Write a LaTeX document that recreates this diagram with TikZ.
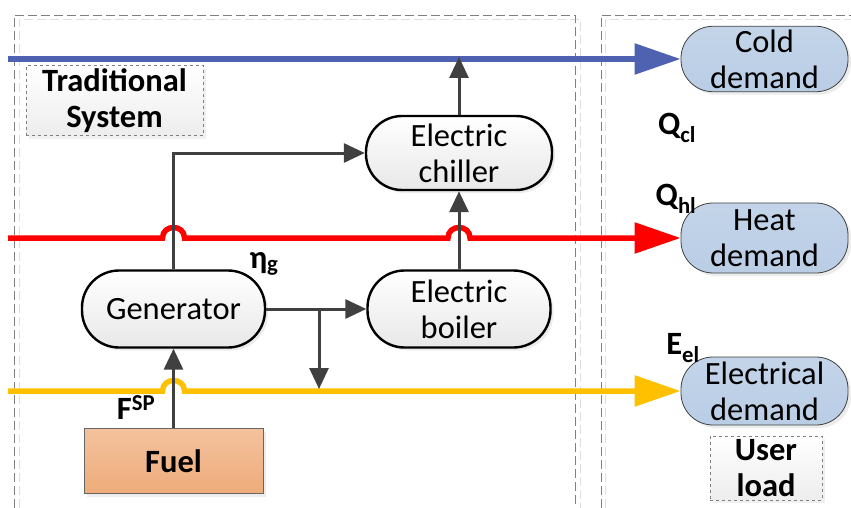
\documentclass[tikz,border=0pt]{standalone}
\usepackage{fontspec}
\setmainfont{Carlito}
\usepackage{tikz}
\usetikzlibrary{arrows.meta,shadows,positioning}
\definecolor{CoolingBlue}{RGB}{79,98,178}
\definecolor{HeatingRed}{RGB}{255,0,0}
\definecolor{PowerYellow}{RGB}{255,192,0}
\definecolor{FlowGray}{RGB}{64,64,64}
\definecolor{DemandBlue}{RGB}{185,205,229}
\definecolor{FuelTop}{RGB}{244,194,158}
\definecolor{FuelBottom}{RGB}{238,172,122}
\definecolor{FrameGray}{RGB}{128,128,128}
\definecolor{FrameLight}{RGB}{222,222,222}
\newcommand{\diagfont}{\fontsize{32.5}{36}\selectfont}
\tikzset{
	plant/.style={draw=black, line width=2.4pt, rounded corners=37pt, minimum width=183pt, minimum height=77pt, top color=white, bottom color=black!9, align=center, font=\diagfont, drop shadow={shadow xshift=3pt, shadow yshift=-3pt, opacity=0.15}},
	demand/.style={draw=black!75, line width=0.8pt, top color=DemandBlue!85!white, bottom color=DemandBlue, rounded corners=32pt, minimum width=167pt, minimum height=66pt, align=center, font=\diagfont, drop shadow={shadow xshift=3pt, shadow yshift=-3pt, opacity=0.15}},
	titlebox/.style={draw=FrameGray, line width=0.8pt, dashed, top color=white, bottom color=black!7, align=center, font=\diagfont\bfseries, drop shadow={shadow xshift=3pt, shadow yshift=-3pt, opacity=0.12}},
	quantity/.style={font=\diagfont\bfseries, inner sep=0pt},
	flow/.style={draw=FlowGray, line width=3pt, -{Triangle[length=21pt,width=19pt]}},
	supply/.style={line width=5.5pt, -{Triangle[length=46pt,width=30pt]}},
	zoneframe/.style={line width=0.9pt, dash pattern=on 9pt off 4pt}
}

\begin{document}
\begin{tikzpicture}[x=1pt, y=-1pt]
	\path[use as bounding box] (0,0) rectangle (851,508);
	% frames
	\draw[zoneframe, FrameLight] (19,508) -- (19,19) -- (580,19) -- (580,508);
	\draw[zoneframe, FrameGray] (14,508) -- (14,15) -- (575,15) -- (575,508);
	\draw[zoneframe, FrameLight] (605,508) -- (605,19) -- (851,19);
	\draw[zoneframe, FrameGray] (601,508) -- (601,15) -- (851,15);
	% nodes
	\node[plant] (gen) at (173.5,309) {Generator};
	\node[plant] (boiler) at (459,309) {Electric\\boiler};
	\node[plant, minimum width=186pt, minimum height=74pt, rounded corners=36pt] (chiller) at (459,153) {Electric\\chiller};
	\node[draw=black!60, line width=1pt, top color=FuelTop, bottom color=FuelBottom, minimum width=179pt, minimum height=65pt, font=\diagfont\bfseries, drop shadow={shadow xshift=3pt, shadow yshift=-3pt, opacity=0.15}] (fuel) at (173.5,461) {Fuel};
	\node[demand, minimum height=64pt] (cold) at (764.5,59) {Cold\\demand};
	\node[demand, minimum height=70pt] (heat) at (764.5,238) {Heat\\demand};
	\node[demand, minimum height=68pt] (power) at (764.5,391) {Electrical\\demand};
	\node[titlebox, minimum width=177pt, minimum height=69pt] (trad) at (114.5,100.5) {Traditional\\System};
	\node[titlebox, minimum width=112pt, minimum height=60pt] (user) at (766,468) {User\\load};
	% labels
	\node[quantity] (fsp) at (136,408) {F\textsuperscript{SP}};
	\node[quantity] (etag) at (264,264) {η\textsubscript{g}};
	\node[quantity] (qcl) at (677,128) {Q\textsubscript{cl}};
	\node[quantity] (qhl) at (676,199) {Q\textsubscript{hl}};
	\node[quantity] (eel) at (683,348) {E\textsubscript{el}};
	% supply lines
	\coordinate (coldin) at (8,59);
	\coordinate (heatin) at (8,238);
	\coordinate (powerin) at (8,391);
	\coordinate (split) at (319,309);
	\draw[supply, CoolingBlue] (coldin) -- (cold.west);
	\draw[supply, HeatingRed] (heatin) -- ([xshift=-11pt]gen |- heatin) .. controls +(0,-14) and +(0,-14) .. ([xshift=11pt]gen |- heatin)
		-- ([xshift=-11pt]boiler |- heatin) .. controls +(0,-14) and +(0,-14) .. ([xshift=11pt]boiler |- heatin) -- (heat.west);
	\draw[supply, PowerYellow] (powerin) -- ([xshift=-11pt]gen |- powerin) .. controls +(0,-14) and +(0,-14) .. ([xshift=11pt]gen |- powerin) -- (power.west);
	% energy flows
	\draw[flow] (fuel.north) -- (gen.south);
	\draw[flow] (gen.north) |- (chiller.west);
	\draw[flow] (gen.east) -- (boiler.west);
	\draw[flow] (split) -- ([yshift=2pt]split |- powerin);
	\draw[flow] (boiler.north) -- (chiller.south);
	\draw[flow] (chiller.north) -- ([yshift=2pt]chiller.north |- coldin);
\end{tikzpicture}
\end{document}
